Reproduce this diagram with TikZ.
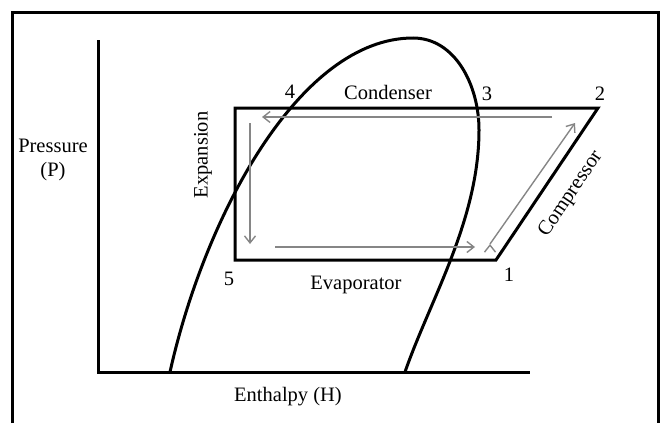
\documentclass[tikz,border=0pt]{standalone}
\usepackage{fontspec}
\setmainfont{Liberation Serif}
\usetikzlibrary{arrows.meta,positioning}
\tikzset{lbl/.style={inner sep=0pt, font=\fontsize{20.5}{24}\selectfont},
  heavy/.style={line width=3pt},
  flow/.style={draw=gray!95, line width=1.4pt, -{Straight Barb[length=7pt,width=11pt]}}}

\begin{document}
\begin{tikzpicture}[x=1pt, y=-1pt, line join=miter]
\useasboundingbox (0,0) rectangle (663,423);
\draw[line width=3pt] (12,423) -- (12,12) -- (658,12) -- (658,423);
% axes
\coordinate (Ptop) at (98,40);
\coordinate (O) at (98,372);
\coordinate (Hend) at (530,372);
\draw[heavy] (Ptop) -- (O) -- (Hend);
% saturation dome
\coordinate (liq) at (170,372);
\coordinate (crit) at (413,38);
\coordinate (bulge) at (479,130);
\coordinate (vap) at (405,372);
\draw[heavy] (liq) .. controls (205,215) and (300,38) .. (crit)
  .. controls (455,38) and (479,85) .. (bulge)
  .. controls (479,220) and (430,300) .. (vap);
% cycle
\coordinate (c1) at (496,260);
\coordinate (c2) at (598,108);
\coordinate (c4) at (235,108);
\coordinate (c5) at (235,260);
\draw[heavy] (c5) -- (c4) -- (c2) -- (c1) -- cycle;
% flow arrows
\coordinate (f1) at (552,117);
\coordinate (f2) at (262,117);
\coordinate (f3) at (250,123);
\coordinate (f4) at (250,244);
\coordinate (f5) at (275,247);
\coordinate (f6) at (475,247);
\coordinate (f7) at (490,244);
\coordinate (f8) at (575,123);
\path[flow] (f1) edge (f2)
  (f3) edge (f4)
  (f5) edge (f6)
  (f7) edge (f8);
% labels
\node[lbl] (n1) at (509,275) {1};
\node[lbl] (n2) at (600,94) {2};
\node[lbl] (n3) at (487,94) {3};
\node[lbl] (n4) at (290,92) {4};
\node[lbl] (n5) at (229,279) {5};
\node[lbl] (cond) at (388,92) {Condenser};
\node[lbl] (evap) at (356,285) {Evaporator};
\node[lbl, rotate=90] (expn) at (203,155) {Expansion};
\node[lbl, rotate=56] (comp) at (571,194) {Compressor};
\node[lbl] (pres) at (53,146) {Pressure};
\node[lbl] (punit) at (53,172) {(P)};
\node[lbl] (enth) at (288,397) {Enthalpy (H)};
\end{tikzpicture}
\end{document}
